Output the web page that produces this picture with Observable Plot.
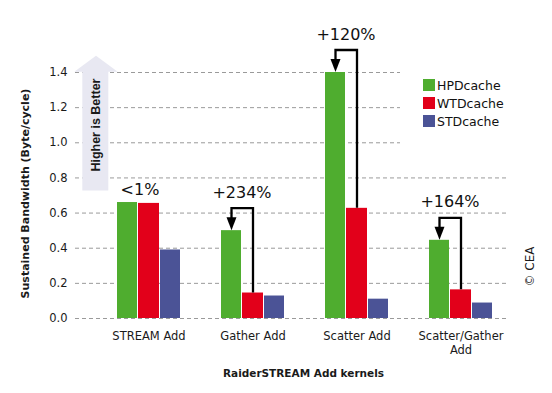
<!DOCTYPE html>
<html><head><meta charset="utf-8">
<script src="https://cdn.jsdelivr.net/npm/d3@7"></script>
<script src="https://cdn.jsdelivr.net/npm/@observablehq/plot@0.6"></script>
<style>
html,body{margin:0;padding:0;background:#fff;}
#chart{position:relative;width:552px;height:393px;font-family:"DejaVu Sans",sans-serif;}
#legend{position:absolute;left:400px;top:62px;width:108px;height:88px;background:#fff;padding:14px 0 0 23px;box-sizing:border-box;}
.item{display:flex;align-items:center;height:18px;font-size:12.5px;color:#111;}
.sw{width:12px;height:12px;margin-right:2px;flex:none;}
</style></head><body><div id="chart"></div>
<script>
const kernels = ["STREAM Add", "Gather Add", "Scatter Add", "Scatter/Gather Add"];
const tickLabels = ["STREAM Add", "Gather Add", "Scatter Add", "Scatter/Gather\nAdd"];
const series = ["HPDcache", "WTDcache", "STDcache"];
const hpd = [0.66, 0.50, 1.40, 0.445];
const wtd = [0.655, 0.145, 0.627, 0.163];
const std = [0.39, 0.128, 0.11, 0.088];
const gains = ["<1%", "+234%", "+120%", "+164%"];
const colors = ["#4fad2f", "#e2001a", "#4b5396"];
const yTicks = [0, 0.2, 0.4, 0.6, 0.8, 1.0, 1.2, 1.4];
const yTitle = "Sustained Bandwidth (Byte/cycle)";
const xTitle = "RaiderSTREAM Add kernels";
const betterText = "Higher is Better";
const credit = "© CEA";

const rows = kernels.map((k, i) => ({kernel: k, hpd: hpd[i], wtd: wtd[i], std: std[i], gain: gains[i]}));

function betterArrow(index, scales, values, dim) {
  const {y} = scales;
  const L = dim.marginLeft - 19.5;
  const g = d3.create("svg:g");
  const pts = [[L + 21, y(1.492)], [L + 42.7, y(1.401)], [L + 33.3, y(1.401)], [L + 33.3, y(0.725)],
               [L + 7.3, y(0.725)], [L + 7.3, y(1.401)], [L - 0.7, y(1.401)]];
  g.append("polygon").attr("points", pts.map(p => p.join(",")).join(" ")).attr("fill", "#e8e8f2");
  g.append("text").attr("transform", `translate(${L + 20.5},${y(1.098)}) rotate(-90)`)
    .attr("text-anchor", "middle").attr("dy", "0.35em")
    .attr("font-family", "'Liberation Sans', Arial, sans-serif").attr("font-weight", "bold")
    .attr("font-size", 12.5).attr("fill", "#1a1a1a").text(betterText);
  return g.node();
}

function connectors(index, scales) {
  const {x, y} = scales;
  const g = d3.create("svg:g");
  rows.forEach(d => {
    if (!d.gain.startsWith("+")) return;
    const x0 = x(d.kernel);
    const gx = x0 + 10.5, rx = x0 + 32;
    const gy = y(d.hpd), ry = y(d.wtd);
    g.append("path").attr("d", `M${rx},${ry}V${gy - 22}H${gx}V${gy - 10}`)
      .attr("fill", "none").attr("stroke", "#000").attr("stroke-width", 2.3);
    g.append("path").attr("d", `M${gx - 5},${gy - 13}L${gx + 5},${gy - 13}L${gx},${gy}Z`).attr("fill", "#000");
  });
  return g.node();
}

const plot = Plot.plot({
  width: 552,
  height: 393,
  marginLeft: 94.5,
  marginRight: 37.5,
  marginTop: 72,
  marginBottom: 75,
  style: {fontFamily: "'DejaVu Sans', sans-serif", background: "transparent", color: "#1a1a1a"},
  x: {domain: kernels, paddingInner: 41 / 105, paddingOuter: 0.19524, label: null},
  y: {domain: [0, 1.4], label: null},
  marks: [
    Plot.ruleY(yTicks, {stroke: "#9a9a9a", strokeDasharray: "4,3", strokeWidth: 1, insetLeft: -19.5, insetRight: 6.5}),
    betterArrow,
    Plot.barY(rows, {x: "kernel", y: "hpd", fill: colors[0], insetLeft: 0, insetRight: 43}),
    Plot.barY(rows, {x: "kernel", y: "wtd", fill: colors[1], insetLeft: 21, insetRight: 21}),
    Plot.barY(rows, {x: "kernel", y: "std", fill: colors[2], insetLeft: 43, insetRight: 0}),
    connectors,
    Plot.text(rows.filter(d => d.gain.startsWith("+")), {x: "kernel", y: "hpd", text: "gain", dx: -11, dy: -38, fontSize: 16, fill: "#111"}),
    Plot.text(rows.filter(d => !d.gain.startsWith("+")), {x: "kernel", y: "hpd", text: "gain", dx: -9, dy: -13, fontSize: 16, fill: "#111"}),
    Plot.axisY({ticks: yTicks, tickFormat: d3.format(".1f"), tickSize: 0, tickPadding: 27.5, fontSize: 11.5, label: null}),
    Plot.axisX({tickFormat: (d) => tickLabels[kernels.indexOf(d)], tickSize: 0, tickPadding: 12, fontSize: 11.5, lineHeight: 1.2, label: null}),
    Plot.text([yTitle], {frameAnchor: "left", dx: -69.5, dy: -2, rotate: -90, fontSize: 11, fontWeight: "bold", textAnchor: "middle", lineAnchor: "middle"}),
    Plot.text([xTitle], {frameAnchor: "bottom", dx: -1.5, dy: 55, fontSize: 10.5, fontWeight: "bold", textAnchor: "middle", lineAnchor: "middle"}),
    Plot.text([credit], {frameAnchor: "right", dx: 15, dy: 71, rotate: -90, fontSize: 12, textAnchor: "middle", lineAnchor: "middle"})
  ]
});

const chart = document.getElementById("chart");
chart.appendChild(plot);
const legend = document.createElement("div");
legend.id = "legend";
series.forEach((s, i) => {
  const item = document.createElement("div");
  item.className = "item";
  const sw = document.createElement("span");
  sw.className = "sw";
  sw.style.background = colors[i];
  const t = document.createElement("span");
  t.textContent = s;
  item.appendChild(sw);
  item.appendChild(t);
  legend.appendChild(item);
});
chart.appendChild(legend);
</script></body></html>
